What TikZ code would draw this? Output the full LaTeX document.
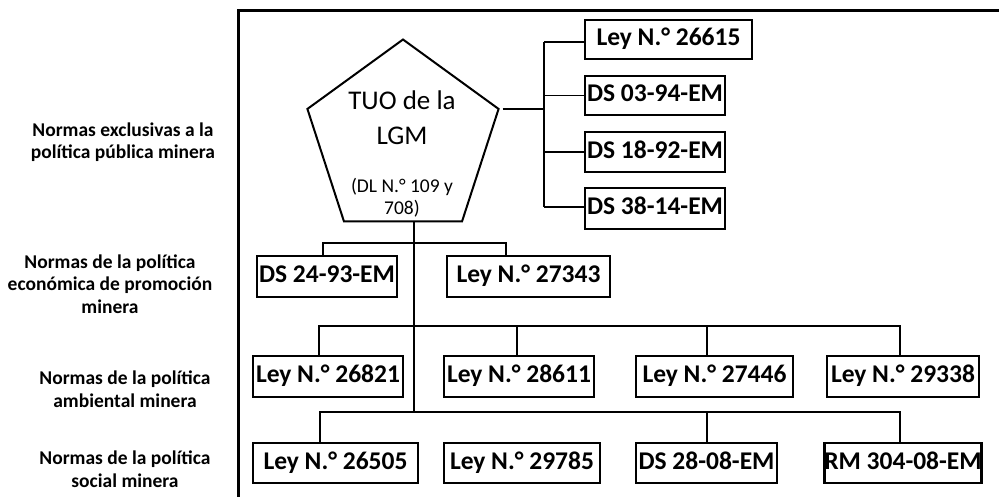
\documentclass[tikz,border=0pt]{standalone}
\usepackage{fontspec}
\setmainfont{Carlito}
\usetikzlibrary{shapes.geometric}
\begin{document}
\begin{tikzpicture}[x=1pt,y=-1pt,
  lbox/.style={draw,line width=2.4pt,inner sep=0pt,minimum height=40pt,text height=17pt,text depth=5pt,font=\fontsize{25.5}{28}\selectfont\bfseries},
  conn/.style={line width=1.6pt},
  side/.style={align=center,font=\fontsize{19.5}{22.5}\selectfont\bfseries}]
\useasboundingbox (0,0) rectangle (999,496);
% frame
\draw[line width=3pt] (238,500) -- (238,10) -- (1002,10);
% left labels
\node[side] (s1) at (123,142) {Normas exclusivas a la\\política pública minera};
\node[side] (s2) at (110,284) {Normas de la política\\económica de promoción\\minera};
\node[side] (s3) at (125,389) {Normas de la política\\ambiental minera};
\node[side] (s4) at (125,469) {Normas de la política\\social minera};
% pentagon
\node[regular polygon,regular polygon sides=5,minimum size=201pt,draw,line width=2pt,inner sep=0pt,outer sep=0pt] (tuo) at (403,140) {};
\node[align=center,font=\fontsize{27}{35}\selectfont] (tuot) at (402,118) {TUO de la\\LGM};
\node[align=center,font=\fontsize{19.5}{22}\selectfont] (tuod) at (402,198) {(DL N.° 109 y\\708)};
% right column
\node[lbox,minimum width=167pt,minimum height=39pt] (b1) at (668.5,39.5) {Ley N.° 26615};
\node[lbox,minimum width=140pt,minimum height=39pt] (b2) at (655,95.5) {DS 03-94-EM};
\node[lbox,minimum width=140pt] (b3) at (655,152) {DS 18-92-EM};
\node[lbox,minimum width=140pt,minimum height=41pt] (b4) at (655,208.5) {DS 38-14-EM};
\coordinate (r1) at (544,42);
\coordinate (r4) at (544,207);
\draw[conn] ([xshift=4pt]tuo.corner 5) -- (tuo.corner 5 -| r1);
\draw[conn] (r1) -- (r4);
\draw[conn] (r1) -- (r1 -| b1.west);
\draw[conn] (b2.west -| r1) -- (b2.west);
\draw[conn] (b3.west -| r1) -- (b3.west);
\draw[conn] (r4) -- (r4 -| b4.west);
% main trunk
\coordinate (v0) at (414,221);
\coordinate (v4) at (414,412);
\draw[conn] (v0) -- (v4);
% row 2
\node[lbox,minimum width=140pt,minimum height=41pt] (c1) at (327,276.5) {DS 24-93-EM};
\node[lbox,minimum width=163pt,minimum height=41pt] (c2) at (528.5,276.5) {Ley N.° 27343};
\coordinate (h2a) at (323,243);
\coordinate (h2b) at (506,243);
\draw[conn] (h2a |- c1.north) -- (h2a) -- (h2b) -- (h2b |- c2.north);
% row 3
\node[lbox,minimum width=150pt,minimum height=41pt] (d1) at (328,376.5) {Ley N.° 26821};
\node[lbox,minimum width=150pt,minimum height=41pt] (d2) at (519,376.5) {Ley N.° 28611};
\node[lbox,minimum width=157pt,minimum height=41pt] (d3) at (714.5,376.5) {Ley N.° 27446};
\node[lbox,minimum width=152pt,minimum height=41pt] (d4) at (903,376.5) {Ley N.° 29338};
\coordinate (h3a) at (319,326);
\coordinate (h3b) at (517,326);
\coordinate (h3c) at (707,326);
\coordinate (h3d) at (900,326);
\draw[conn] (h3a |- d1.north) -- (h3a) -- (h3d) -- (h3d |- d4.north);
\draw[conn] (h3b) -- (h3b |- d2.north);
\draw[conn] (h3c) -- (h3c |- d3.north);
% row 4
\node[lbox,minimum width=165pt] (e1) at (335.5,463) {Ley N.° 26505};
\node[lbox,minimum width=156pt] (e2) at (522,463) {Ley N.° 29785};
\node[lbox,minimum width=141pt] (e3) at (706.5,463) {DS 28-08-EM};
\node[lbox,minimum width=152pt] (e4) at (903,463) {RM 304-08-EM};
\coordinate (h4a) at (320,412);
\coordinate (h4c) at (707,412);
\coordinate (h4d) at (900,412);
\draw[conn] (h4a |- e1.north) -- (h4a) -- (h4d) -- (h4d |- e4.north);
\draw[conn] (h4c) -- (h4c |- e3.north);
\end{tikzpicture}
\end{document}
